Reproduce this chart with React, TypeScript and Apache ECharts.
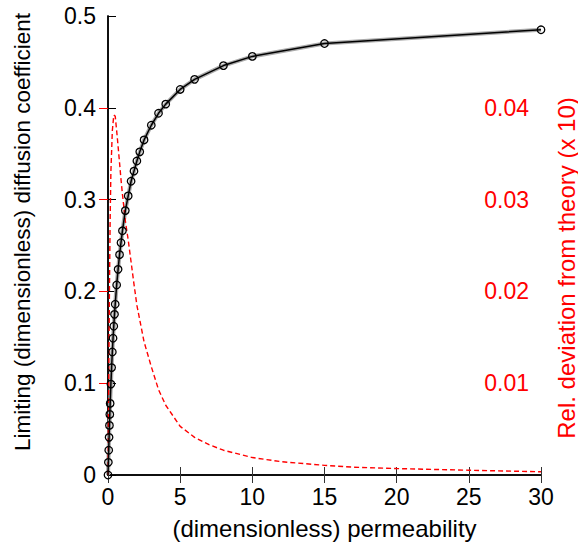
import React, { useEffect, useRef } from "react";
import * as echarts from "echarts";

// Simulation: limiting diffusion coefficient vs permeability
const simX = [0, 0.025, 0.05, 0.075, 0.1, 0.125, 0.15, 0.2, 0.25, 0.3, 0.35, 0.4, 0.45, 0.5, 0.6, 0.7, 0.8, 0.9, 1.0, 1.2, 1.4, 1.6, 1.8, 2.0, 2.2, 2.5, 3, 3.5, 4, 5, 6, 8, 10, 15, 30];
const simY = [0, 0.0138, 0.027, 0.041, 0.054, 0.066, 0.078, 0.099, 0.117, 0.134, 0.149, 0.162, 0.175, 0.186, 0.207, 0.224, 0.24, 0.253, 0.266, 0.288, 0.304, 0.32, 0.331, 0.342, 0.352, 0.365, 0.381, 0.394, 0.404, 0.42, 0.431, 0.446, 0.456, 0.47, 0.485];

// Theory curve (coincides visually with simulation)
const theoryX = simX;
const theoryY = simY;

// Relative deviation from theory (x 10), right axis
const devX = [0, 0.05, 0.1, 0.15, 0.2, 0.3, 0.4, 0.5, 0.6, 0.7, 0.8, 0.9, 1.0, 1.2, 1.4, 1.6, 1.8, 2.0, 2.5, 3.0, 3.5, 4.0, 5.0, 6.0, 7.0, 8.0, 10, 12, 15, 17, 20, 25, 30];
const devY = [0, 0.01, 0.02, 0.028, 0.033, 0.0375, 0.0392, 0.0391, 0.0375, 0.0358, 0.034, 0.0322, 0.0306, 0.0277, 0.0256, 0.0232, 0.0208, 0.0185, 0.0145, 0.0118, 0.0093, 0.0076, 0.0053, 0.0041, 0.0033, 0.0027, 0.0019, 0.00145, 0.00105, 0.00085, 0.0007, 0.00052, 0.00035];

const xTicks = { min: 0, max: 30, interval: 5 };
const yLeft = { min: 0, max: 0.5, interval: 0.1 };
const yRight = { min: 0, max: 0.05, interval: 0.01 };

const xName = "(dimensionless) permeability";
const yLeftName = "Limiting (dimensionless) diffusion coefficient";
const yRightName = "Rel. deviation from theory (x 10)";

const FONT = "Liberation Sans, Arial, Helvetica, sans-serif";

export default function App() {
  const ref = useRef<HTMLDivElement>(null);
  useEffect(() => {
    if (!ref.current) return;
    const chart = echarts.init(ref.current, null, { renderer: "svg" });
    const zip = (xs: number[], ys: number[]) => xs.map((x, i) => [x, ys[i]]);
    chart.setOption({
      animation: false,
      backgroundColor: "#fff",
      textStyle: { fontFamily: FONT },
      grid: { left: 108, right: 37, top: 16, bottom: 77 },
      graphic: [
        {
          type: "text",
          x: 22,
          y: 232,
          rotation: Math.PI / 2,
          style: {
            text: yLeftName,
            fill: "#000",
            fontSize: 22.5,
            fontFamily: FONT,
            align: "center",
            verticalAlign: "middle",
          },
        },
        {
          type: "text",
          x: 566,
          y: 268,
          rotation: Math.PI / 2,
          style: {
            text: yRightName,
            fill: "#ff0000",
            fontSize: 24,
            fontFamily: FONT,
            align: "center",
            verticalAlign: "middle",
          },
        },
      ],
      xAxis: [
        {
          type: "value",
          position: "bottom",
          ...xTicks,
          name: xName,
          nameLocation: "middle",
          nameGap: 41,
          nameTextStyle: { fontSize: 24, color: "#000", fontFamily: FONT },
          axisLine: { show: true, lineStyle: { color: "#000", width: 1.5 } },
          axisTick: { show: true, inside: true, length: 8, lineStyle: { color: "#333", width: 1 } },
          axisLabel: { fontSize: 23, color: "#000", margin: 10, fontFamily: FONT },
          splitLine: { show: false },
        },
        {
          type: "value",
          position: "top",
          ...xTicks,
          axisLine: { show: true, lineStyle: { color: "#000", width: 1.5 } },
          axisTick: { show: true, inside: true, length: 8, lineStyle: { color: "#333", width: 1 } },
          axisLabel: { show: false },
          splitLine: { show: false },
        },
      ],
      yAxis: [
        {
          type: "value",
          position: "left",
          ...yLeft,
          axisLine: { show: true, lineStyle: { color: "#000", width: 1.5 } },
          axisTick: { show: true, inside: true, length: 8, lineStyle: { color: "#000", width: 1 } },
          axisLabel: {
            fontSize: 23,
            color: "#000",
            margin: 12,
            fontFamily: FONT,
            formatter: (v: number) => (v === 0 ? "0" : v.toFixed(1)),
          },
          splitLine: { show: false },
        },
        {
          type: "value",
          position: "right",
          ...yRight,
          axisLine: { show: true, lineStyle: { color: "#000", width: 1.5 } },
          axisTick: { show: true, inside: true, length: 9, lineStyle: { color: "#ff0000", width: 1 } },
          axisLabel: {
            inside: true,
            fontSize: 23,
            color: "#ff0000",
            margin: 12,
            fontFamily: FONT,
            showMinLabel: false,
            showMaxLabel: false,
            formatter: (v: number) => v.toFixed(2),
          },
          splitLine: { show: false },
        },
      ],
      series: [
        {
          name: "theory",
          type: "line",
          xAxisIndex: 0,
          yAxisIndex: 0,
          data: zip(theoryX, theoryY),
          showSymbol: false,
          symbol: "none",
          lineStyle: { color: "#aaaaaa", width: 4 },
          z: 1,
        },
        {
          name: "simulation",
          type: "line",
          xAxisIndex: 0,
          yAxisIndex: 0,
          data: zip(simX, simY),
          symbol: "circle",
          symbolSize: 7.5,
          showAllSymbol: true,
          itemStyle: { color: "rgba(0,0,0,0)", borderColor: "#000", borderWidth: 1.3 },
          lineStyle: { color: "#000", width: 1.5 },
          z: 3,
        },
        {
          name: "deviation",
          type: "line",
          xAxisIndex: 0,
          yAxisIndex: 1,
          data: zip(devX, devY),
          symbol: "none",
          lineStyle: { color: "#ff0000", width: 1.4, type: [5, 3] },
          z: 2,
        },
      ],
    });
    return () => chart.dispose();
  }, []);
  return (
    <div
      ref={ref}
      style={{ position: "absolute", left: 0, top: 0, width: 578, height: 552 }}
    />
  );
}
